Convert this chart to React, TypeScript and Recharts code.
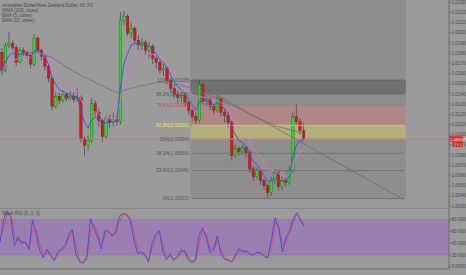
import React from 'react';
import { ComposedChart, Bar, Line, XAxis, YAxis, ReferenceArea, ReferenceLine, ReferenceDot } from 'recharts';

// ---------- data ----------
const OPEN_FIRST = 1.01808;
const CLOSE = [
  1.01631, 1.01877, 1.01896, 1.01857, 1.01709, 1.01828, 1.01808, 1.01778, 1.01690, 1.01946,
  1.01828, 1.01768, 1.01670, 1.01552, 1.01276, 1.01374, 1.01335, 1.01394, 1.01355, 1.01374,
  1.01345, 1.01365, 1.00961, 1.00892, 1.00941, 1.01305, 1.01217, 1.01138, 1.00980, 1.01158,
  1.01118, 1.01148, 1.01128, 1.02123, 1.02162, 1.01995, 1.02044, 1.01926, 1.01877, 1.01906,
  1.01828, 1.01867, 1.01749, 1.01709, 1.01631, 1.01650, 1.01532, 1.01453, 1.01394, 1.01365,
  1.01384, 1.01315, 1.01237, 1.01177, 1.01138, 1.01493, 1.01335, 1.01355, 1.01276, 1.01237,
  1.01355, 1.01217, 1.01187, 1.01118, 1.00793, 1.00862, 1.00833, 1.00872, 1.00823, 1.00665,
  1.00586, 1.00646, 1.00547, 1.00498, 1.00429, 1.00547, 1.00626, 1.00488, 1.00547, 1.00527,
  1.00646, 1.01177, 1.01128, 1.01040, 1.00957,
];
const HIGH = [
  1.01847, 1.01906, 1.02005, 1.01926, 1.01877, 1.01857, 1.01857, 1.01828, 1.01798, 1.01985,
  1.01965, 1.01847, 1.01788, 1.01690, 1.01571, 1.01414, 1.01414, 1.01434, 1.01414, 1.01424,
  1.01414, 1.01453, 1.01384, 1.00980, 1.00990, 1.01355, 1.01335, 1.01256, 1.01158, 1.01187,
  1.01197, 1.01217, 1.01187, 1.02202, 1.02212, 1.02182, 1.02103, 1.02064, 1.01975, 1.01946,
  1.01926, 1.01906, 1.01887, 1.01778, 1.01729, 1.01690, 1.01670, 1.01552, 1.01493, 1.01434,
  1.01414, 1.01394, 1.01335, 1.01256, 1.01217, 1.01535, 1.01512, 1.01384, 1.01374, 1.01296,
  1.01384, 1.01365, 1.01256, 1.01217, 1.01138, 1.00902, 1.00882, 1.00902, 1.00882, 1.00843,
  1.00695, 1.00675, 1.00646, 1.00567, 1.00517, 1.00586, 1.00665, 1.00646, 1.00586, 1.00577,
  1.00685, 1.01217, 1.01305, 1.01158, 1.01118,
];
const LOW = [
  1.01581, 1.01611, 1.01847, 1.01828, 1.01670, 1.01699, 1.01768, 1.01749, 1.01650, 1.01670,
  1.01788, 1.01729, 1.01631, 1.01512, 1.01237, 1.01256, 1.01296, 1.01315, 1.01325, 1.01335,
  1.01315, 1.01325, 1.00921, 1.00793, 1.00843, 1.00921, 1.01177, 1.01079, 1.00921, 1.00961,
  1.01059, 1.01079, 1.01089, 1.01099, 1.02074, 1.01965, 1.01946, 1.01887, 1.01828, 1.01828,
  1.01778, 1.01749, 1.01690, 1.01650, 1.01591, 1.01571, 1.01493, 1.01414, 1.01355, 1.01305,
  1.01315, 1.01276, 1.01197, 1.01128, 1.01099, 1.01118, 1.01296, 1.01276, 1.01237, 1.01197,
  1.01217, 1.01177, 1.01118, 1.01069, 1.00744, 1.00774, 1.00793, 1.00803, 1.00774, 1.00626,
  1.00547, 1.00567, 1.00508, 1.00458, 1.00372, 1.00399, 1.00517, 1.00449, 1.00458, 1.00488,
  1.00508, 1.00626, 1.01099, 1.01000, 1.00941,
];
const WMA100 = [
  null, null, null, null, null, null, 1.01808, 1.01808, 1.01808, 1.01798,
  1.01798, 1.01788, 1.01778, 1.01768, 1.01759, 1.01729, 1.01709, 1.01690, 1.01660, 1.01640,
  1.01621, 1.01601, 1.01581, 1.01562, 1.01552, 1.01532, 1.01512, 1.01493, 1.01483, 1.01463,
  1.01443, 1.01424, 1.01414, 1.01414, 1.01434, 1.01443, 1.01453, 1.01463, 1.01473, 1.01483,
  1.01483, 1.01493, 1.01502, 1.01512, 1.01512, 1.01512, 1.01502, 1.01502, 1.01493, 1.01493,
  1.01483, 1.01473, 1.01463, 1.01453, 1.01443, 1.01434, 1.01414, 1.01404, 1.01384, 1.01374,
  1.01355, 1.01345, 1.01325, 1.01305, 1.01286, 1.01276, 1.01256, 1.01237, 1.01217, 1.01197,
  1.01177, 1.01168, 1.01148, 1.01138, 1.01118, 1.01108, 1.01089, 1.01079, 1.01069, 1.01059,
  1.01049, 1.01040, 1.01030, 1.01020, 1.01010,
];
const STOCH_K = [
  42, 80, 95, 82, 36, 50, 40, 42, 29, 80,
  55, 27, 15, 30, 18, 10, 26, 30, 36, 55,
  64, 20, 8, 6, 18, 82, 65, 50, 30, 62,
  60, 52, 60, 86, 91, 88, 78, 45, 22, 25,
  20, 8, 40, 55, 62, 25, 12, 22, 10, 18,
  28, 26, 12, 7, 12, 55, 66, 48, 24, 30,
  52, 22, 13, 11, 8, 20, 31, 25, 27, 21,
  20, 25, 23, 17, 15, 48, 84, 64, 25, 50,
  62, 82, 92, 78, 68,
];
const STOCH_D = [
  48, 65, 90, 90, 55, 44, 44, 41, 33, 62,
  64, 38, 20, 24, 23, 13, 20, 28, 33, 48,
  60, 35, 12, 7, 12, 60, 72, 56, 38, 52,
  60, 55, 57, 78, 89, 90, 82, 58, 30, 24,
  22, 12, 30, 50, 59, 37, 17, 18, 14, 15,
  24, 27, 17, 9, 10, 40, 62, 55, 32, 28,
  45, 30, 16, 12, 9, 15, 27, 27, 26, 23,
  20, 23, 24, 19, 16, 36, 75, 70, 38, 42,
  58, 76, 89, 82, 71,
];
const DAY_LABELS = ['13', '14', '15', '16', '17', '20', '21', '22', '23', '24', '25'];
const BARS_PER_DAY = 12;
const TOTAL_SLOTS = 125;
const PRICE_TICKS = [
  1.023, 1.022, 1.021, 1.020, 1.019, 1.018, 1.017, 1.016, 1.015, 1.014, 1.013,
  1.012, 1.011, 1.010, 1.009, 1.008, 1.007, 1.006, 1.005, 1.004, 1.003,
];
const PRICE_DOMAIN = [1.0028, 1.0232];
const STOCH_TICKS = [0, 20, 40, 60, 80];
const STOCH_DOMAIN = [-3.9, 100];
const FIB_HIGH = 1.01535;
const FIB_LOW = 1.00372;
const FIB_LEVELS = [1, 0.882, 0.786, 0.618, 0.5, 0.382, 0.236, 0];
const FIB_START = 53;
const FIB_END = 112;
const TREND = [{ x: 51, y: 1.01562 }, { x: 112, y: 1.0036 }];
const LAST_PRICE = 1.00957;
const COUNTDOWN = '53:16';
const LEGEND = [
  'Australian Dollar/New Zealand Dollar, 60, FX',
  'WMA (100, close)',
  'EMA (5, close)',
  'EMA (10, close)',
];
const STOCH_TITLE = 'Stoch RSI (5, 3, 3)';

// ---------- styles ----------
const FONT = '"Liberation Sans", Arial, sans-serif';
const BG = '#9b9b9b';
const BOX = '#8e8e8e';
const AXIS = '#6b6b6b';
const TXT = '#4a4a4a';
const LEVEL_STYLE: Record<string, { line: string; text: string; band?: string }> = {
  '1': { line: '#5e5e5e', text: '#555555', band: '#717171' },
  '0.882': { line: '#6a6a6a', text: '#555555' },
  '0.786': { line: '#c46b6b', text: '#c24a4a', band: '#b18686' },
  '0.618': { line: '#cfcf6a', text: '#eded55', band: '#b2b17e' },
  '0.5': { line: '#c77a7a', text: '#555555' },
  '0.382': { line: '#6a6a6a', text: '#555555' },
  '0.236': { line: '#6a6a6a', text: '#555555' },
  '0': { line: '#6a6a6a', text: '#555555' },
};

// ---------- derived table ----------
function ema(values: number[], period: number) {
  const a = 2 / (period + 1);
  const out: number[] = [];
  values.forEach((v, i) => out.push(i === 0 ? v : a * v + (1 - a) * out[i - 1]));
  return out;
}
const EMA5 = ema(CLOSE, 5);
const EMA10 = ema(CLOSE, 10);
const fibPrice = (l: number) => FIB_LOW + l * (FIB_HIGH - FIB_LOW);

const rows = Array.from({ length: TOTAL_SLOTS }, (_, i) => {
  const has = i < CLOSE.length;
  return {
    i,
    open: has ? (i === 0 ? OPEN_FIRST : CLOSE[i - 1]) : null,
    close: has ? CLOSE[i] : null,
    high: has ? HIGH[i] : null,
    low: has ? LOW[i] : null,
    wma: has ? WMA100[i] : null,
    ema5: has ? EMA5[i] : null,
    ema10: has ? EMA10[i] : null,
    k: has ? STOCH_K[i] : null,
    d: has ? STOCH_D[i] : null,
  };
});
const DAY_TICKS = DAY_LABELS.map((_, k) => k * BARS_PER_DAY);

// ---------- shapes ----------
const Candle = (props: any) => {
  const { x, y, width, height, payload } = props;
  if (!payload || payload.high == null) return null;
  const { open, close, high, low } = payload;
  const top = Math.min(y, y + height);
  const h = Math.abs(height);
  const ppu = h / Math.max(high - low, 1e-9);
  const yOf = (v: number) => top + (high - v) * ppu;
  const cx = x + width / 2;
  const up = close >= open;
  const bTop = yOf(Math.max(open, close));
  const bBot = yOf(Math.min(open, close));
  return (
    <g>
      <line x1={cx} x2={cx} y1={top} y2={top + h} stroke="#4d4d4d" strokeWidth={0.8} />
      <rect x={cx - 1.3} y={bTop} width={2.6} height={Math.max(bBot - bTop, 0.8)} fill={up ? '#1de21d' : '#e31212'} stroke="#3c3c3c" strokeWidth={0.35} />
    </g>
  );
};

const PriceTick = (props: any) => {
  const { x, y, payload } = props;
  return (
    <text x={x} y={y} dy={1.7} fontSize={4.6} fill={TXT} textAnchor="start" fontFamily={FONT}>
      {Number(payload.value).toFixed(5)}
    </text>
  );
};
const StochTick = (props: any) => {
  const { x, y, payload } = props;
  return (
    <text x={x} y={y} dy={1.7} fontSize={4.6} fill={TXT} textAnchor="start" fontFamily={FONT}>
      {Number(payload.value).toFixed(4)}
    </text>
  );
};
const DayTick = (props: any) => {
  const { x, y, payload } = props;
  return (
    <text x={x} y={y + 3.5} fontSize={4.8} fill={TXT} textAnchor="middle" fontFamily={FONT}>
      {DAY_LABELS[Math.round(payload.value / BARS_PER_DAY)]}
    </text>
  );
};
const PriceTag = (props: any) => {
  const vb = props.viewBox || {};
  const right = vb.x + vb.width;
  const cy = vb.y;
  return (
    <g>
      <rect x={right} y={cy - 2.6} width={14} height={5.2} fill="#f01c1c" />
      <text x={right + 1.2} y={cy} dy={1.6} fontSize={4.2} fill="#ffffff" fontFamily={FONT}>{LAST_PRICE.toFixed(5)}</text>
      <rect x={right + 4} y={cy + 3.2} width={10} height={4.6} fill="#f01c1c" />
      <text x={right + 5} y={cy + 5.5} dy={1.5} fontSize={4} fill="#ffffff" fontFamily={FONT}>{COUNTDOWN}</text>
    </g>
  );
};

const levelKey = (l: number) => String(l);

export default function App() {
  const bands: { a: number; b: number; fill: string }[] = [];
  FIB_LEVELS.forEach((l, idx) => {
    const st = LEVEL_STYLE[levelKey(l)];
    if (st.band && idx + 1 < FIB_LEVELS.length) bands.push({ a: l, b: FIB_LEVELS[idx + 1], fill: st.band });
  });
  return (
    <div style={{ position: 'absolute', left: 0, top: 0, width: 466, height: 275, background: BG, overflow: 'hidden', fontFamily: FONT }}>
      <div style={{ position: 'absolute', left: 0, top: 0 }}>
        <ComposedChart width={466} height={208} data={rows} margin={{ top: 0, right: 0, bottom: 0, left: 0 }}>
          <XAxis dataKey="i" type="category" hide />
          <YAxis
            orientation="right"
            width={17}
            domain={PRICE_DOMAIN}
            allowDataOverflow
            ticks={PRICE_TICKS}
            interval={0}
            tick={PriceTick}
            tickSize={2}
            tickMargin={0.5}
            stroke={AXIS}
          />
          <ReferenceArea x1={FIB_START} x2={FIB_END} y1={FIB_LOW} y2={PRICE_DOMAIN[1]} fill={BOX} fillOpacity={1} stroke="none" />
          {bands.map((b) => (
            <ReferenceArea key={'b' + b.a} x1={FIB_START} x2={FIB_END} y1={fibPrice(b.b)} y2={fibPrice(b.a)} fill={b.fill} fillOpacity={1} stroke="none" />
          ))}
          {FIB_LEVELS.map((l) => (
            <ReferenceLine
              key={'l' + l}
              segment={[{ x: FIB_START, y: fibPrice(l) }, { x: FIB_END, y: fibPrice(l) }]}
              stroke={LEVEL_STYLE[levelKey(l)].line}
              strokeWidth={0.8}
            />
          ))}
          {FIB_LEVELS.map((l) => (
            <ReferenceDot
              key={'t' + l}
              x={FIB_START}
              y={fibPrice(l)}
              r={0}
              shape={(p: any) => (
                <text x={p.cx - 3.2} y={p.cy} dy={1.6} fontSize={4.6} textAnchor="end" fill={LEVEL_STYLE[levelKey(l)].text} fontFamily={FONT}>
                  {`${+(l * 100).toFixed(1)}%(${fibPrice(l).toFixed(5)})`}
                </text>
              )}
            />
          ))}
          <ReferenceLine segment={TREND} stroke="#666666" strokeWidth={0.7} />
          <ReferenceLine y={LAST_PRICE} stroke="#cf7474" strokeWidth={0.8} label={PriceTag} />
          <Line dataKey="wma" stroke="#6f6f6f" strokeWidth={0.8} dot={false} activeDot={false} isAnimationActive={false} />
          <Bar dataKey={(r: any) => (r.high == null ? null : [r.low, r.high])} shape={Candle} activeBar={false} isAnimationActive={false} />
          <Line dataKey="ema10" stroke="#e070e0" strokeWidth={0.9} dot={false} activeDot={false} isAnimationActive={false} />
          <Line dataKey="ema5" stroke="#4848d8" strokeWidth={0.9} dot={false} activeDot={false} isAnimationActive={false} />
        </ComposedChart>
      </div>
      <div style={{ position: 'absolute', left: 0, top: 208 }}>
        <ComposedChart width={466} height={67} data={rows} margin={{ top: 0, right: 0, bottom: 0, left: 0 }}>
          <XAxis dataKey="i" type="category" ticks={DAY_TICKS} interval={0} height={6} tickLine={false} stroke={AXIS} tick={DayTick} />
          <YAxis
            orientation="right"
            width={17}
            domain={STOCH_DOMAIN}
            allowDataOverflow
            ticks={STOCH_TICKS}
            interval={0}
            tick={StochTick}
            tickSize={2}
            tickMargin={0.5}
            stroke={AXIS}
          />
          <ReferenceArea y1={20} y2={80} fill="#9a80b0" fillOpacity={1} stroke="none" />
          <ReferenceLine y={80} stroke="#85789a" strokeWidth={0.6} />
          <ReferenceLine y={20} stroke="#85789a" strokeWidth={0.6} />
          <ReferenceLine y={100} stroke={AXIS} strokeWidth={0.8} />
          <Line dataKey="d" stroke="#e6425e" strokeWidth={0.9} dot={false} activeDot={false} isAnimationActive={false} />
          <Line dataKey="k" stroke="#4545e6" strokeWidth={0.9} dot={false} activeDot={false} isAnimationActive={false} />
        </ComposedChart>
      </div>
      <svg width={466} height={275} style={{ position: 'absolute', left: 0, top: 0, pointerEvents: 'none' }}>
        {LEGEND.map((t, k) => (
          <text key={t} x={2} y={6.5 + k * 5} fontSize={4.6} fill={TXT} fontFamily={FONT}>{t}</text>
        ))}
        <text x={2} y={215} fontSize={4.6} fill={TXT} fontFamily={FONT}>{STOCH_TITLE}</text>
      </svg>
    </div>
  );
}
